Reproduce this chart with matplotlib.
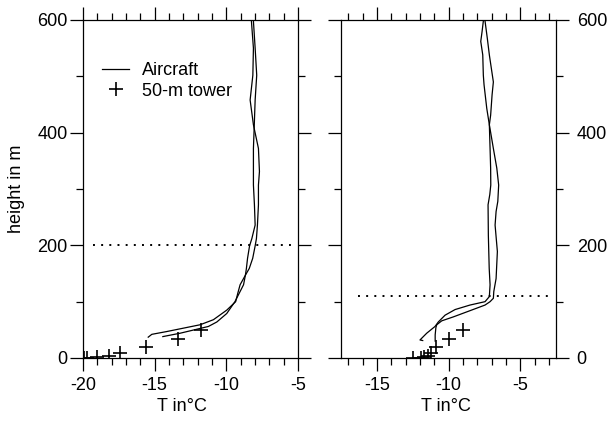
import matplotlib
matplotlib.use("Agg")
import matplotlib.pyplot as plt
from matplotlib.ticker import MultipleLocator

plt.rcParams['font.family'] = ['Liberation Sans', 'DejaVu Sans']

# ---- left panel: aircraft profiles (height in m, temperature in degC)
left_a_h = [37, 42, 47, 59, 68, 85, 100, 115, 130, 147, 159, 177, 199, 212, 236,
            272, 307, 331, 372, 414, 458, 502, 550, 598]
left_a_t = [-15.45, -15.2, -14.15, -11.83, -10.9, -9.97, -9.35, -9.2, -9.04, -8.67,
            -8.4, -8.16, -7.99, -7.9, -7.83, -7.76, -7.76, -7.69, -7.76, -8.11,
            -8.34, -8.15, -8.11, -8.25]
left_b_h = [38, 44, 56, 64, 79, 100, 130, 147, 159, 177, 199, 212, 236, 272, 307,
            331, 372, 414, 458, 502, 550, 598]
left_b_t = [-14.43, -13.22, -11.25, -10.66, -9.97, -9.4, -8.8, -8.67, -8.6, -8.52,
            -8.38, -8.22, -7.99, -8.04, -8.11, -8.11, -8.11, -8.05, -7.99, -7.88,
            -7.99, -8.11]

# ---- right panel: aircraft profiles
right_c_h = [31, 32, 44, 56, 64, 76, 86, 94, 100, 109, 130, 159, 218, 272, 290,
             307, 337, 372, 414, 431, 467, 490, 538, 567, 598]
right_c_t = [-11.8, -11.99, -11.52, -10.94, -10.71, -10.24, -9.54, -8.5, -7.45,
             -7.15, -7.1, -7.16, -7.22, -7.24, -7.12, -7.05, -7.06, -7.1, -7.15,
             -7.06, -6.96, -6.87, -7.15, -7.29, -7.45]
right_d_h = [30, 41, 54, 59, 66, 73, 84, 94, 100, 106, 118, 141, 189, 236, 260,
             278, 307, 337, 372, 414, 443, 485, 502, 538, 562, 579, 598]
right_d_t = [-10.93, -10.93, -10.88, -10.82, -10.47, -9.66, -8.5, -7.45, -7.1,
             -6.87, -6.84, -6.68, -6.59, -6.75, -6.68, -6.56, -6.5, -6.63, -6.87,
             -7.15, -7.33, -7.52, -7.57, -7.61, -7.75, -7.66, -7.57]

# ---- 50-m tower measurements
tower_h = [0.3, 0.3, 1, 3.5, 9, 19, 34, 49]
tower_left_t = [-19.9, -19.7, -19.0, -18.2, -17.4, -15.6, -13.4, -11.8]
tower_right_t = [-12.45, -11.95, -11.7, -11.45, -11.2, -10.9, -10.0, -9.0]

# ---- boundary-layer top (dotted line)
bl_height = [200, 110]

xlims = [(-20, -5), (-17.5, -2.5)]
xticks = [[-20, -15, -10, -5], [-15, -10, -5]]
yticks = [0, 200, 400, 600]
FS = 13

fig = plt.figure(figsize=(6.08, 4.21), dpi=100)
ax_l = fig.add_axes([83 / 608, 1 - 358 / 421, 215 / 608, 338 / 421])
ax_r = fig.add_axes([341 / 608, 1 - 358 / 421, 215 / 608, 338 / 421])

line_kw = dict(color='black', lw=0.9)
mark_kw = dict(color='black', marker='+', ls='none', ms=10, mew=1.2)

ax_l.plot(left_a_t, left_a_h, label='Aircraft', **line_kw)
ax_l.plot(left_b_t, left_b_h, **line_kw)
ax_l.plot(tower_left_t, tower_h, label='50-m tower', **mark_kw)
ax_l.axhline(bl_height[0], xmin=0.047, xmax=0.977, color='black', lw=1.4,
             ls=(0, (1, 3.2)))

ax_r.plot(right_c_t, right_c_h, **line_kw)
ax_r.plot(right_d_t, right_d_h, **line_kw)
ax_r.plot(tower_right_t, tower_h, **mark_kw)
ax_r.axhline(bl_height[1], xmin=0.079, xmax=0.972, color='black', lw=1.4,
             ls=(0, (1, 3.2)))

for i, ax in enumerate([ax_l, ax_r]):
    ax.set_xlim(*xlims[i])
    ax.set_ylim(0, 600)
    ax.set_xticks(xticks[i])
    ax.set_xticklabels([str(v) for v in xticks[i]])
    ax.set_yticks(yticks)
    ax.xaxis.set_minor_locator(MultipleLocator(1))
    ax.yaxis.set_minor_locator(MultipleLocator(100))
    for s in ax.spines.values():
        s.set_linewidth(0.9)
    ax.tick_params(which='both', direction='out', top=True, bottom=True,
                   left=True, right=True, width=0.9, labelsize=FS)
    ax.tick_params(which='major', length=9.4)
    ax.tick_params(which='minor', length=5)
    ax.tick_params(axis='x', pad=4)
    ax.set_xlabel('T in°C', fontsize=FS)

ax_l.tick_params(axis='y', labelleft=True, labelright=False, pad=1.5)
ax_r.tick_params(axis='y', labelleft=False, labelright=True, pad=5.5)
ax_l.set_ylabel('height in m', fontsize=FS)
ax_l.yaxis.set_label_coords(-0.27, 0.5)
ax_l.xaxis.set_label_coords(0.459, -0.118)
ax_r.xaxis.set_label_coords(0.487, -0.118)

ax_l.legend(loc='upper left', bbox_to_anchor=(0.09, 0.876), frameon=False,
            fontsize=FS, handlelength=1.5, handletextpad=0.7,
            borderpad=0, borderaxespad=0, labelspacing=0.2)

fig.savefig('out.png', dpi=100)
